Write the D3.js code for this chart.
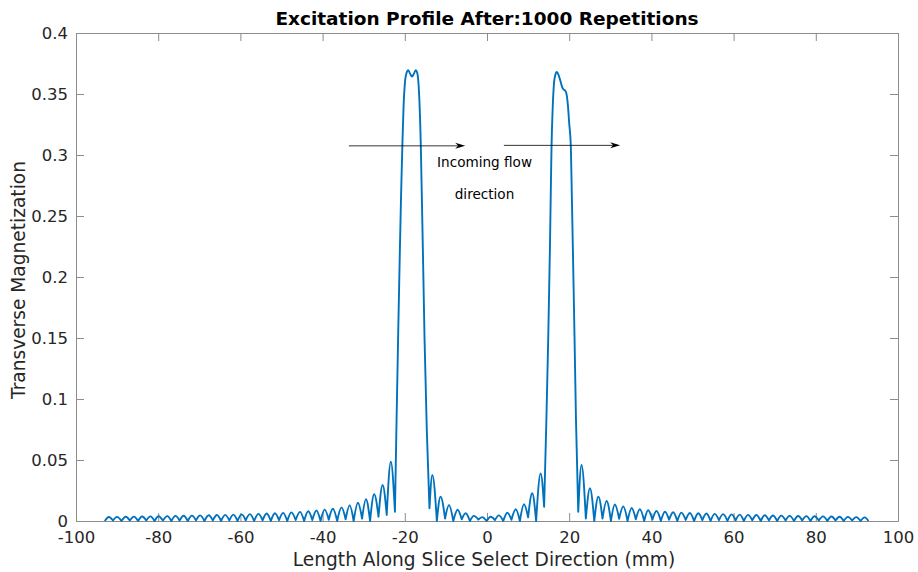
<!DOCTYPE html>
<html>
<head>
<meta charset="utf-8">
<script src="https://cdn.jsdelivr.net/npm/d3@7/dist/d3.min.js"></script>
<style>
  html, body { margin: 0; padding: 0; background: #fff; }
  svg { display: block; font-family: "DejaVu Sans", sans-serif; }
</style>
</head>
<body>
<svg id="chart" width="918" height="572"></svg>
<script>
// Slice profile: sample positions (mm) and transverse magnetization,
// listed as alternating troughs and crests, with extra samples on the two passbands.
const leftSideMm = [
  -93.0, -92.0, -91.0, -90.0, -88.95, -87.9, -86.9, -85.9, -84.9, -83.9,
  -82.9, -81.9, -80.9, -79.9, -78.85, -77.8, -76.8, -75.8, -74.8, -73.8,
  -72.8, -71.8, -70.8, -69.8, -68.75, -67.7, -66.7, -65.7, -64.7, -63.7,
  -62.7, -61.7, -60.7, -59.7, -58.7, -57.7, -56.65, -55.6, -54.6, -53.6,
  -52.6, -51.6, -50.6, -49.6, -48.6, -47.6, -46.55, -45.5, -44.5, -43.5,
  -42.5, -41.5, -40.5, -39.5, -38.5, -37.5, -36.45, -35.4, -34.4, -33.4,
  -32.45, -31.4, -30.4, -29.45, -28.45, -27.45, -26.4, -25.4, -24.4, -23.4
];
const leftSideMxy = [
  0, 0.0033, 0.0004, 0.0034, 0, 0.0035, 0.0004, 0.0036, 0, 0.0037,
  0.0004, 0.0038, 0, 0.0039, 0.0004, 0.0040, 0, 0.0042, 0.0004, 0.0043,
  0, 0.0044, 0.0005, 0.0046, 0, 0.0047, 0.0005, 0.0049, 0, 0.0050,
  0.0005, 0.0052, 0, 0.0054, 0.0006, 0.0056, 0, 0.0058, 0.0006, 0.0061,
  0, 0.0064, 0.0007, 0.0067, 0, 0.0071, 0.0008, 0.0075, 0, 0.0080,
  0.0009, 0.0086, 0, 0.0093, 0.0011, 0.0101, 0, 0.0112, 0.0014, 0.0128,
  0, 0.0150, 0.0019, 0.0178, 0, 0.0220, 0.0035, 0.0295, 0.0050, 0.0486
];
const leftBandMm = [
  -22.4, -22.0, -21.6, -21.2, -20.9, -20.6, -20.3, -20.0, -19.6, -19.15,
  -18.7, -18.25, -17.8, -17.35, -16.95, -16.7, -16.45, -16.1, -15.85, -15.6,
  -15.2, -14.65
];
const leftBandMxy = [
  0.0076, 0.083, 0.155, 0.222, 0.268, 0.307, 0.340, 0.358, 0.367, 0.3695,
  0.3665, 0.3643, 0.3665, 0.3695, 0.367, 0.360, 0.345, 0.307, 0.265, 0.222,
  0.150, 0.075
];
const centreMm = [
  -14.0, -13.3, -12.2, -11.3, -10.2, -9.25, -8.2, -7.15, -6.15, -5.2,
  -4.15, -3.2, -2.1, -1.15, -0.1, 0.9, 1.95, 2.9, 3.95, 4.95,
  5.95, 7.0, 8.0, 9.0, 10.0, 11.0, 11.95, 13.05
];
const centreMxy = [
  0.0104, 0.0377, 0, 0.0200, 0.0020, 0.0130, 0, 0.0092, 0.0014, 0.0063,
  0, 0.0042, 0.0012, 0.0032, 0, 0.0035, 0.0008, 0.0046, 0, 0.0068,
  0.0010, 0.0096, 0, 0.0137, 0.0030, 0.0227, 0, 0.0390
];
const rightBandMm = [
  13.9, 14.45, 14.9, 15.3, 15.5, 15.7, 16.0, 16.3, 16.65, 16.95,
  17.3, 17.8, 18.3, 18.7, 19.1, 19.4, 19.7, 20.0, 20.4, 20.65,
  20.9, 21.3, 21.65
];
const rightBandMxy = [
  0.0117, 0.083, 0.150, 0.222, 0.265, 0.307, 0.340, 0.3587, 0.366, 0.368,
  0.3665, 0.3615, 0.3555, 0.3535, 0.3525, 0.349, 0.340, 0.326, 0.307, 0.265,
  0.222, 0.150, 0.083
];
const rightSideMm = [
  22.2, 23.0, 24.05, 25.05, 26.1, 27.1, 28.1, 29.1, 30.15, 31.1,
  32.15, 33.15, 34.2, 35.2, 36.2, 37.2, 38.25, 39.2, 40.25, 41.25,
  42.3, 43.3, 44.3, 45.3, 46.3, 47.3, 48.35, 49.35, 50.4, 51.4,
  52.4, 53.4, 54.4, 55.4, 56.45, 57.45, 58.5, 59.5, 60.5, 61.5,
  62.5, 63.5, 64.55, 65.55, 66.6, 67.6, 68.6, 69.6, 70.6, 71.6,
  72.65, 73.65, 74.7, 75.7, 76.7, 77.7, 78.7, 79.7, 80.75, 81.75,
  82.8, 83.8, 84.8, 85.8, 86.8, 87.8, 88.85, 89.85, 90.9, 91.9,
  92.8
];
const rightSideMxy = [
  0.0076, 0.0459, 0.0020, 0.0268, 0, 0.0200, 0.0020, 0.0164, 0, 0.0135,
  0.0018, 0.0120, 0, 0.0106, 0.0014, 0.0096, 0, 0.0088, 0.0012, 0.0082,
  0, 0.0076, 0.0010, 0.0072, 0, 0.0069, 0.0009, 0.0066, 0, 0.0064,
  0.0008, 0.0061, 0, 0.0058, 0.0007, 0.0056, 0, 0.0054, 0.0006, 0.0052,
  0, 0.0050, 0.0006, 0.0049, 0, 0.0047, 0.0005, 0.0045, 0, 0.0044,
  0.0005, 0.0042, 0, 0.0041, 0.0004, 0.0040, 0, 0.0039, 0.0004, 0.0038,
  0, 0.0037, 0.0004, 0.0035, 0, 0.0034, 0.0004, 0.0032, 0, 0.0030,
  0
];

const xTicks = [-100, -80, -60, -40, -20, 0, 20, 40, 60, 80, 100];
const xTickLabels = ["-100", "-80", "-60", "-40", "-20", "0", "20", "40", "60", "80", "100"];
const yTicks = [0, 0.05, 0.1, 0.15, 0.2, 0.25, 0.3, 0.35, 0.4];
const yTickLabels = ["0", "0.05", "0.1", "0.15", "0.2", "0.25", "0.3", "0.35", "0.4"];

const titleText = "Excitation Profile After:1000 Repetitions";
const xLabelText = "Length Along Slice Select Direction (mm)";
const yLabelText = "Transverse Magnetization";
const noteLines = ["Incoming flow", "direction"];

// Flow arrows in axis units: [x0, x1, y]
const flowArrows = [[-33.6, -5.3, 0.3075], [4.1, 32.4, 0.3079]];

// ---- layout ----
const svg = d3.select("#chart");
const plot = { left: 76, right: 898, top: 33, bottom: 521 };
const axisGrey = "#8c8c8c";
const textGrey = "#262626";

const x = d3.scaleLinear().domain([-100, 100]).range([plot.left, plot.right]);
const y = d3.scaleLinear().domain([0, 0.4]).range([plot.bottom, plot.top]);

// assemble the profile
const profile = [];
[[leftSideMm, leftSideMxy], [leftBandMm, leftBandMxy], [centreMm, centreMxy],
 [rightBandMm, rightBandMxy], [rightSideMm, rightSideMxy]].forEach(([xs, ys]) => {
  xs.forEach((v, i) => profile.push([v, ys[i]]));
});

// split at troughs so each lobe is its own smooth arch with a sharp bottom
const isTrough = (i) => {
  if (i === 0 || i === profile.length - 1) return true;
  const v = profile[i][1];
  return v < 0.02 && v <= profile[i - 1][1] && v <= profile[i + 1][1];
};
const segments = [];
let current = [profile[0]];
for (let i = 1; i < profile.length; i++) {
  current.push(profile[i]);
  if (isTrough(i)) { segments.push(current); current = [profile[i]]; }
}

const line = d3.line()
  .x(d => x(d[0]))
  .y(d => y(d[1]))
  .curve(d3.curveMonotoneX);

const pathD = segments.map((seg, k) => {
  const d = line(seg);
  return k === 0 ? d : "L" + d.slice(1);
}).join("");

// ---- axes ----
const gx = svg.append("g").attr("transform", `translate(0,${plot.bottom})`)
  .call(d3.axisBottom(x).tickValues(xTicks).tickSizeInner(-8).tickSizeOuter(0).tickPadding(10)
    .tickFormat((d, i) => xTickLabels[i]));
const gxTop = svg.append("g").attr("transform", `translate(0,${plot.top})`)
  .call(d3.axisTop(x).tickValues(xTicks).tickSizeInner(-8).tickSizeOuter(0).tickFormat(""));
const gy = svg.append("g").attr("transform", `translate(${plot.left},0)`)
  .call(d3.axisLeft(y).tickValues(yTicks).tickSizeInner(-8).tickSizeOuter(0).tickPadding(8)
    .tickFormat((d, i) => yTickLabels[i]));
const gyRight = svg.append("g").attr("transform", `translate(${plot.right},0)`)
  .call(d3.axisRight(y).tickValues(yTicks).tickSizeInner(-8).tickSizeOuter(0).tickFormat(""));

[gx, gxTop, gy, gyRight].forEach(g => {
  g.select(".domain").attr("stroke", axisGrey);
  g.selectAll(".tick line").attr("stroke", axisGrey);
  g.selectAll(".tick text").attr("fill", textGrey)
    .style("font-family", "DejaVu Sans").style("font-size", "16.5px");
});

// ---- profile curve ----
svg.append("path")
  .attr("d", pathD)
  .attr("fill", "none")
  .attr("stroke", "#0072BD")
  .attr("stroke-width", 1.9)
  .attr("stroke-linejoin", "round");

// ---- flow arrows and note ----
flowArrows.forEach(([x0, x1, yv]) => {
  const px0 = x(x0), px1 = x(x1), py = y(yv);
  svg.append("line")
    .attr("x1", px0).attr("x2", px1 - 6).attr("y1", py).attr("y2", py)
    .attr("stroke", "#000").attr("stroke-width", 0.8);
  svg.append("path")
    .attr("d", `M${px1},${py} L${px1 - 10},${py - 3} L${px1 - 7},${py} L${px1 - 10},${py + 3} Z`)
    .attr("fill", "#000");
});

const noteX = x(-0.6);
svg.append("text").attr("x", noteX).attr("y", 167)
  .attr("text-anchor", "middle").attr("font-size", 13.6).attr("fill", "#000")
  .text(noteLines[0]);
svg.append("text").attr("x", noteX).attr("y", 198.5)
  .attr("text-anchor", "middle").attr("font-size", 13.6).attr("fill", "#000")
  .text(noteLines[1]);

// ---- title and axis labels ----
svg.append("text").attr("x", (plot.left + plot.right) / 2).attr("y", 25)
  .attr("text-anchor", "middle").attr("font-weight", "bold").attr("font-size", 18.5)
  .attr("fill", "#000").text(titleText);
svg.append("text").attr("x", (plot.left + plot.right) / 2 - 3).attr("y", 566)
  .attr("text-anchor", "middle").attr("font-size", 18.6).attr("fill", textGrey)
  .text(xLabelText);
svg.append("text")
  .attr("transform", `translate(25,280) rotate(-90)`)
  .attr("text-anchor", "middle").attr("font-size", 18.6).attr("fill", textGrey)
  .text(yLabelText);
</script>
</body>
</html>
